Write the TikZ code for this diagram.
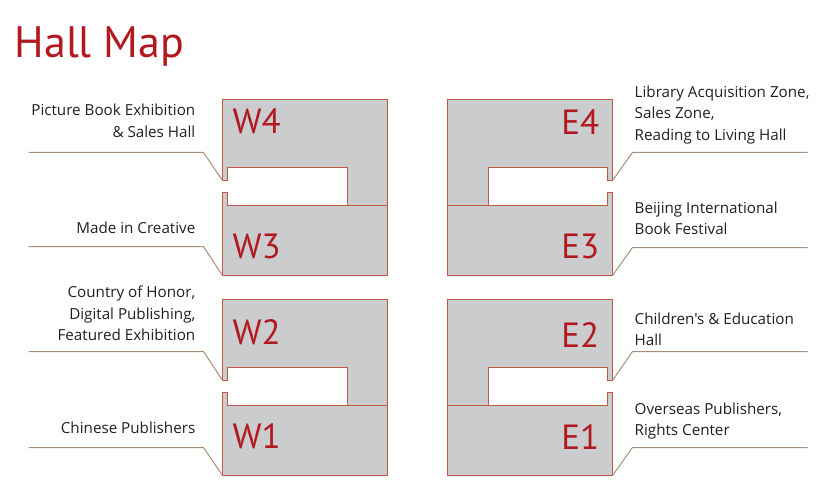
\documentclass[tikz,border=0pt]{standalone}
\usepackage{fontspec}
\setmainfont{PT Sans}
\newfontfamily\lblfont{Open Sans}
\definecolor{hallfill}{HTML}{CBCCCE}
\definecolor{hallline}{HTML}{C25A48}
\definecolor{hallred}{HTML}{B1181F}
\definecolor{leadcol}{HTML}{A4907B}
\definecolor{txtcol}{HTML}{231F20}
\tikzset{
  hall/.style={fill=hallfill, draw=hallline, line width=1.1pt, line join=miter},
  leader/.style={draw=leadcol, line width=1pt},
  hallname/.style={text=hallred, font=\fontsize{35}{35}\selectfont, inner sep=0pt},
  lbl/.style={text=txtcol, font=\lblfont\fontsize{15.2}{21.5}\selectfont, inner sep=0pt},
  lbll/.style={lbl, align=right, anchor=base east},
  lblr/.style={lbl, align=left, anchor=base west},
}
\begin{document}
\begin{tikzpicture}[x=1pt,y=-1pt]
\useasboundingbox (-0.5,-0.5) rectangle (832.5,499.5);
% title
\node[text=hallred, font=\fontsize{44}{44}\selectfont, inner sep=0pt, anchor=base west] (title) at (14,57) {Hall Map};

% West halls
\foreach \dy in {0,200} {
  \draw[hall] (222,99+\dy) -- (387,99+\dy) -- (387,205+\dy) -- (347,205+\dy) -- (347,167+\dy) -- (227,167+\dy) -- (227,180+\dy) -- (222,180+\dy) -- cycle;
  \draw[hall] (222,192+\dy) -- (227,192+\dy) -- (227,205+\dy) -- (387,205+\dy) -- (387,275+\dy) -- (222,275+\dy) -- cycle;
}
% East halls
\foreach \dy in {0,200} {
  \draw[hall] (447,99+\dy) -- (612,99+\dy) -- (612,180+\dy) -- (607,180+\dy) -- (607,167+\dy) -- (488,167+\dy) -- (488,205+\dy) -- (447,205+\dy) -- cycle;
  \draw[hall] (447,205+\dy) -- (607,205+\dy) -- (607,192+\dy) -- (612,192+\dy) -- (612,275+\dy) -- (447,275+\dy) -- cycle;
}

% hall names
\node[hallname, anchor=base west] (w4) at (232,133) {W4};
\node[hallname, anchor=base west] (w3) at (232,258) {W3};
\node[hallname, anchor=base west] (w2) at (232,344) {W2};
\node[hallname, anchor=base west] (w1) at (232,448) {W1};
\node[hallname, anchor=base east] (e4) at (599,134) {E4};
\node[hallname, anchor=base east] (e3) at (599,258) {E3};
\node[hallname, anchor=base east] (e2) at (599,347) {E2};
\node[hallname, anchor=base east] (e1) at (599,449) {E1};

% corner coordinates
\coordinate (cw4) at (222,180);
\coordinate (cw3) at (222,275);
\coordinate (cw2) at (222,380);
\coordinate (cw1) at (222,475);
\coordinate (ce4) at (612,180);
\coordinate (ce3) at (612,275);
\coordinate (ce2) at (612,380);
\coordinate (ce1) at (612,475);
% leader bends and ends
\coordinate (bw4) at (203,152); \coordinate (sw4) at (28,152);
\coordinate (bw3) at (203,246); \coordinate (sw3) at (28,246);
\coordinate (bw2) at (203,351); \coordinate (sw2) at (28,351);
\coordinate (bw1) at (203,447); \coordinate (sw1) at (28,447);
\coordinate (be4) at (632,152); \coordinate (se4) at (807,152);
\coordinate (be3) at (632,247); \coordinate (se3) at (807,247);
\coordinate (be2) at (632,351); \coordinate (se2) at (807,351);
\coordinate (be1) at (632,447); \coordinate (se1) at (807,447);

\foreach \n in {w4,w3,w2,w1,e4,e3,e2,e1} {
  \draw[leader] (s\n) -- (b\n) -- (c\n);
}

% labels left (anchor = baseline of last line)
\node[lbll] (lw4) at (195,137) {Picture Book Exhibition\\\& Sales Hall};
\node[lbll] (lw3) at (195,233) {Made in Creative};
\node[lbll] (lw2) at (195,340) {Country of Honor,\\Digital Publishing,\\Featured Exhibition};
\node[lbll] (lw1) at (195,433) {Chinese Publishers};
% labels right
\node[lblr] (le4) at (634,140) {Library Acquisition Zone,\\Sales Zone,\\Reading to Living Hall};
\node[lblr] (le3) at (634,234) {Beijing International\\Book Festival};
\node[lblr] (le2) at (634,345) {Children's \& Education\\Hall};
\node[lblr] (le1) at (634,435) {Overseas Publishers,\\Rights Center};
\end{tikzpicture}
\end{document}
